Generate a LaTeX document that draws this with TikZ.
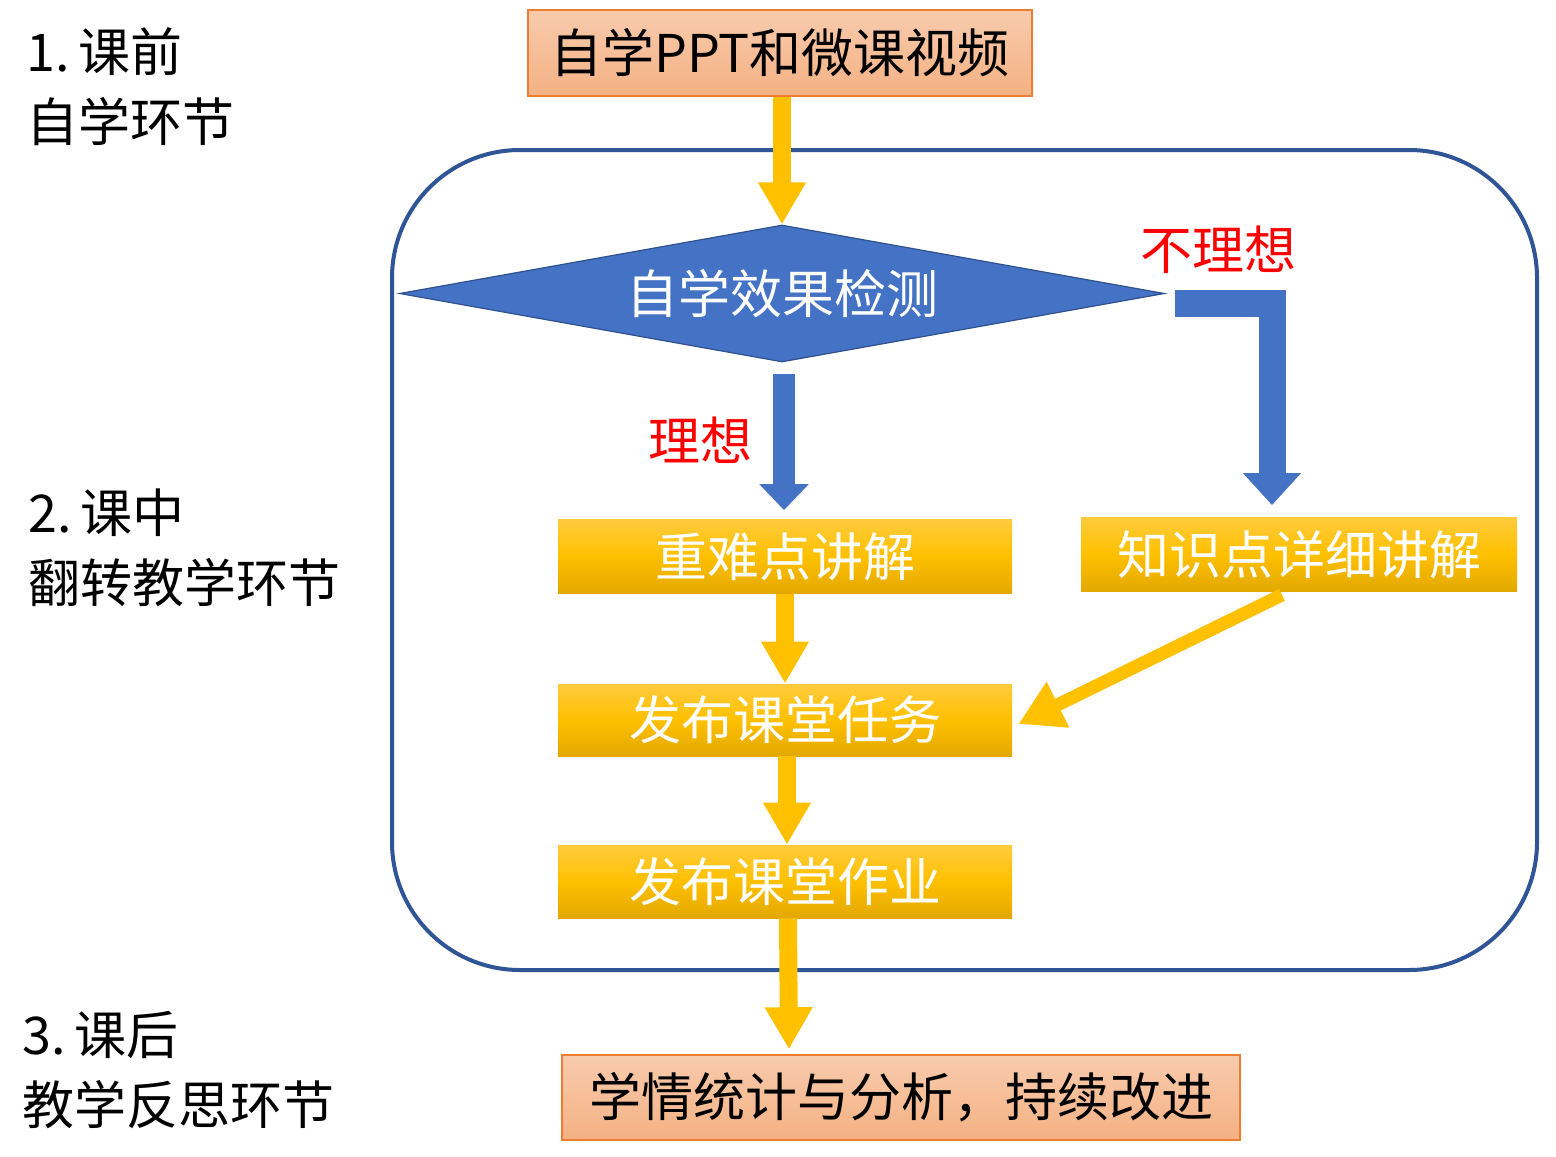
\documentclass[tikz,border=0pt]{standalone}
\usepackage{fontspec}
\newfontfamily\cjk{Noto Sans CJK SC}
\usetikzlibrary{shapes.geometric,arrows.meta,calc}
\definecolor{yel}{HTML}{FFC000}
\definecolor{ytop}{HTML}{FFCB3D}
\definecolor{ybot}{HTML}{E2A800}
\definecolor{sal1}{HTML}{F8CBAD}
\definecolor{sal2}{HTML}{F4B183}
\definecolor{salb}{HTML}{ED7D31}
\definecolor{dblue}{HTML}{4472C4}
\definecolor{dbord}{HTML}{2F528F}
\definecolor{frame}{HTML}{2F5597}
\begin{document}
\begin{tikzpicture}[x=0.5pt,y=-0.5pt,
  txt/.style={font=\cjk\fontsize{26}{35}\selectfont},
  ybox/.style={txt, rectangle, inner sep=0pt, minimum width=227pt, minimum height=37pt,
    top color=ytop, bottom color=ybot, middle color=yel, text=white},
  sbox/.style={txt, rectangle, inner sep=0pt, top color=sal1, bottom color=sal2,
    draw=salb, line width=0.75pt, text=black},
  lbl/.style={txt, align=left, anchor=west, inner sep=0pt},
  redlbl/.style={txt, text=red, inner sep=0pt},
  yarrow/.style={draw=yel, line width=9pt, -{Triangle[width=22.5pt,length=21pt]}},
  barrow/.style={draw=dblue, line width=11pt, -{Triangle[width=24pt,length=13pt]}}
]
\useasboundingbox (0,0) rectangle (1556,1156);

% frame
\node[draw=frame, line width=2pt, rounded corners=64pt, minimum width=572.5pt,
  minimum height=410pt, inner sep=0pt] (frame) at (964.5,560) {};

% nodes
\node[sbox, minimum width=252pt, minimum height=43pt] (top) at (780,53) {自学PPT和微课视频};
\node[shape=diamond, fill=dblue, draw=dbord, line width=0.6pt, inner sep=0pt,
  minimum width=382.5pt, minimum height=68.5pt, shape aspect=5.58, txt, text=white]
  (chk) at (782,293.5) {自学效果检测};
\node[ybox] (kp) at (785,556.5) {重难点讲解};
\node[ybox, minimum width=218pt] (xs) at (1299,554.5) {知识点详细讲解};
\node[ybox, minimum height=36pt] (task) at (785,720) {发布课堂任务};
\node[ybox, minimum height=36.5pt] (hw) at (785,881.5) {发布课堂作业};
\node[sbox, minimum width=339pt, minimum height=42.5pt] (fin) at (901,1097.5) {学情统计与分析，持续改进};

% labels
\node[redlbl] (ok) at (700,440) {理想};
\node[redlbl] (nok) at (1218,250) {不理想};
\node[lbl] (l1) at (26,87) {1.\,课前\\自学环节};
\node[lbl] (l2) at (28,548) {2.\,课中\\翻转教学环节};
\node[lbl] (l3) at (22,1070) {3.\,课后\\教学反思环节};

% connectors
\draw[yarrow] (chk.north |- top.south) -- (chk.north);
\draw[barrow] ($(chk.south)+(2,11)$) -- ($(kp.north)+(-1,-9)$);
\draw[barrow, line width=13.5pt, -{Triangle[width=28pt,length=16pt]}]
  ($(chk.east)+(9.5,9.5)$) -| ($(xs.north)+(-27,-12)$);
\draw[yarrow] (kp.south) -- (task.north);
\draw[yarrow] ($(task.south)+(2,0)$) -- ($(hw.north)+(2,0)$);
\draw[yarrow] ($(hw.south)+(3,0)$) -- ($(hw.south |- fin.north)+(4,-5)$);
\draw[yarrow, line width=6.5pt, -{Triangle[width=24pt,length=22pt]}]
  ($(xs.south)+(-17,3)$) -- ($(task.east)+(6,4)$);
\end{tikzpicture}
\end{document}
